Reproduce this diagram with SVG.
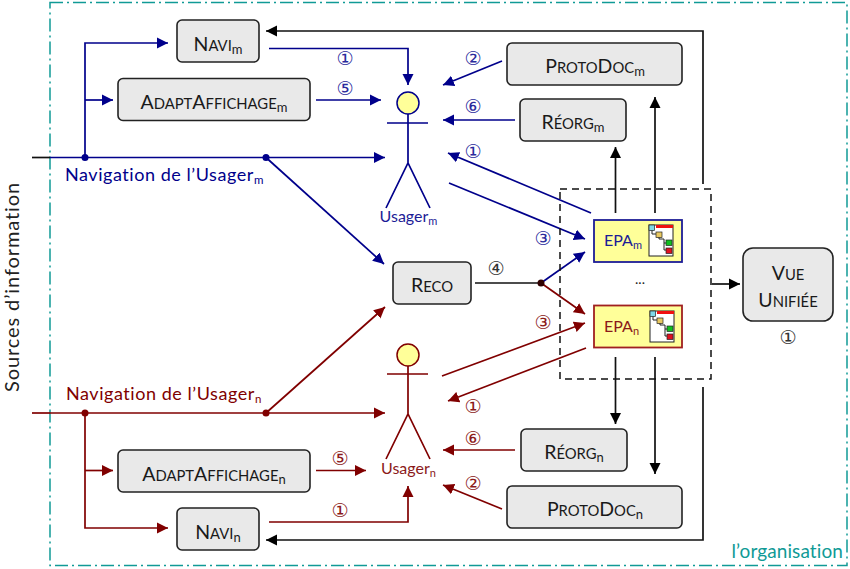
<svg xmlns="http://www.w3.org/2000/svg" xmlns:xlink="http://www.w3.org/1999/xlink" width="850" height="569" viewBox="0 0 850 569">
<style>
text{font-family:"Lato","Open Sans","Liberation Sans",sans-serif}
.box{fill:#e9e9e9;stroke:#222;stroke-width:1.6}
.t{font-size:19.500px;fill:#1a1a1a;text-anchor:middle}
.s{font-size:14.800px}
.sub{font-size:13px}
.b{stroke:#00008b;fill:none;stroke-width:1.7}
.r{stroke:#800000;fill:none;stroke-width:1.7}
.k{stroke:#111;fill:none;stroke-width:1.7}
.ab{marker-end:url(#ab)}
.ar{marker-end:url(#ar)}
.ak{marker-end:url(#ak)}
.nb,.nr,.nk{font-family:"DejaVu Sans",sans-serif;font-size:19px;text-anchor:middle;dominant-baseline:central}
.nb{fill:#2a2a9c}.nr{fill:#8b1a1a}.nk{fill:#333}
.lb{fill:#00008b;font-size:18px;letter-spacing:.55px}
.lr{fill:#800000;font-size:18px;letter-spacing:.55px}
</style>
<defs>
<marker id="ab" markerUnits="userSpaceOnUse" markerWidth="12" markerHeight="12" refX="11" refY="6" orient="auto"><path d="M0,0.500L11,6L0,11.500z" fill="#00008b"/></marker>
<marker id="ar" markerUnits="userSpaceOnUse" markerWidth="12" markerHeight="12" refX="11" refY="6" orient="auto"><path d="M0,0.500L11,6L0,11.500z" fill="#800000"/></marker>
<marker id="ak" markerUnits="userSpaceOnUse" markerWidth="12" markerHeight="12" refX="11" refY="6" orient="auto"><path d="M0,0.500L11,6L0,11.500z" fill="#000"/></marker>
<g id="tree">
<rect x="0" y="0" width="24" height="31" fill="#fff" stroke="#222" stroke-width="1"/>
<rect x="7" y="0" width="17" height="3" fill="#f01010"/>
<path d="M3,4V9H10M10,10V14H15V18H19M15,18V25H19" fill="none" stroke="#222" stroke-width="1"/>
<rect x="0" y="0" width="5.500" height="5.500" fill="#7fd8e8" stroke="#222" stroke-width=".7"/>
<rect x="7" y="7" width="6" height="5.500" fill="#e8c860" stroke="#222" stroke-width=".7"/>
<rect x="17" y="15" width="6" height="5.500" fill="#10c020" stroke="#222" stroke-width=".7"/>
<rect x="17" y="23" width="6" height="5.500" fill="#e01020" stroke="#222" stroke-width=".7"/>
</g>
</defs>
<rect width="850" height="569" fill="#fff"/>
<rect id="organisation" x="50" y="2.500" width="797" height="563" fill="none" stroke="#109a96" stroke-width="1.500" stroke-dasharray="13 4 2 4"/>
<text x="843" y="558" font-size="19px" fill="#109a96" text-anchor="end" letter-spacing=".1">l’organisation</text>
<text transform="translate(19,392) rotate(-90)" font-size="20" letter-spacing=".9" fill="#222">Sources d’information</text>

<g id="connectors">
<path class="k" d="M32,157.500H50"/>
<path class="b ab" d="M50,157.500H385"/>
<path class="b ab" d="M85,157.500V43H168"/>
<path class="b ab" d="M85,100H113"/>
<path class="b ab" d="M266,157.500L384,264"/>
<path class="b ab" d="M269,48.500H408V85"/>
<path class="b ab" d="M316,100H381"/>
<path class="b ab" d="M502,61L443,85"/>
<path class="b ab" d="M515,120H443"/>
<path class="b ab" d="M591,213L448,153"/>
<path class="b ab" d="M449,183L585,239"/>
<path class="k" d="M475,283H541"/>
<path class="b ab" d="M541,283L585,252"/>
<path class="r ar" d="M541,283L585,314"/>
<path class="r" d="M32,413H50"/>
<path class="r ar" d="M50,413H385"/>
<path class="r ar" d="M85,413V528H168"/>
<path class="r ar" d="M85,470.500H113"/>
<path class="r ar" d="M266,413L385,307"/>
<path class="r ar" d="M269,522H408V486"/>
<path class="r ar" d="M316,470.500H366"/>
<path class="r ar" d="M442,376L585,323"/>
<path class="r ar" d="M586,348L448,401"/>
<path class="r ar" d="M515,450H443"/>
<path class="r ar" d="M502,509L443,485"/>
<path class="k ak" d="M703,184V31H266"/>
<path class="k ak" d="M703,387V540H266"/>
<path class="k ak" d="M615.500,213V147"/>
<path class="k ak" d="M655,213V97"/>
<path class="k ak" d="M615.500,357V424"/>
<path class="k ak" d="M655,357V474"/>
<path class="k ak" d="M712,284H740"/>
<circle cx="85" cy="157.500" r="3.500" fill="#00008b"/>
<circle cx="266" cy="157.500" r="3.500" fill="#00008b"/>
<circle cx="85" cy="413" r="3.500" fill="#800000"/>
<circle cx="266" cy="413" r="3.500" fill="#800000"/>
<circle cx="541" cy="283" r="3.500" fill="#300000"/>
<path d="M560,189H711V379H560z" fill="none" stroke="#111" stroke-width="1.500" stroke-dasharray="7 5"/>
</g>

<g id="navi-m"><rect class="box" x="177" y="20" width="82" height="42" rx="5"/><text class="t" x="218" y="51">N<tspan class="s">AVI</tspan><tspan class="sub" dy="3">m</tspan></text></g>
<g id="adapt-m"><rect class="box" x="118" y="78.500" width="192" height="42" rx="5"/><text class="t" x="214" y="109">A<tspan class="s">DAPT</tspan>A<tspan class="s">FFICHAGE</tspan><tspan class="sub" dy="3">m</tspan></text></g>
<g id="proto-m"><rect class="box" x="507" y="43" width="175" height="42" rx="5"/><text class="t" x="595" y="73">P<tspan class="s">ROTO</tspan>D<tspan class="s">OC</tspan><tspan class="sub" dy="3">m</tspan></text></g>
<g id="reorg-m"><rect class="box" x="520" y="99" width="106" height="42" rx="5"/><text class="t" x="573" y="129">R<tspan class="s">ÉORG</tspan><tspan class="sub" dy="3">m</tspan></text></g>
<g id="reco"><rect class="box" x="393" y="262" width="78" height="42" rx="5"/><text class="t" x="432" y="292">R<tspan class="s">ECO</tspan></text></g>
<g id="vue"><rect class="box" x="743" y="248" width="90" height="73" rx="10"/><text class="t" x="788" y="280">V<tspan class="s">UE</tspan></text><text class="t" x="788" y="307">U<tspan class="s">NIFIÉE</tspan></text></g>
<g id="reorg-n"><rect class="box" x="521" y="429" width="106" height="42" rx="5"/><text class="t" x="574" y="459">R<tspan class="s">ÉORG</tspan><tspan class="sub" dy="3">n</tspan></text></g>
<g id="proto-n"><rect class="box" x="507" y="486" width="175" height="42" rx="5"/><text class="t" x="595" y="516">P<tspan class="s">ROTO</tspan>D<tspan class="s">OC</tspan><tspan class="sub" dy="3">n</tspan></text></g>
<g id="adapt-n"><rect class="box" x="118" y="450" width="192" height="42" rx="5"/><text class="t" x="214" y="481">A<tspan class="s">DAPT</tspan>A<tspan class="s">FFICHAGE</tspan><tspan class="sub" dy="3">n</tspan></text></g>
<g id="navi-n"><rect class="box" x="177" y="508" width="82" height="42" rx="5"/><text class="t" x="218" y="539">N<tspan class="s">AVI</tspan><tspan class="sub" dy="3">n</tspan></text></g>

<g id="epa-m"><rect x="594" y="220" width="88" height="42" fill="#ffff99" stroke="#1c1c96" stroke-width="1.800"/><text x="604" y="246" font-size="16" fill="#1c1c96">EPA<tspan font-size="11" dy="3">m</tspan></text><use href="#tree" x="649" y="225"/></g>
<g id="epa-n"><rect x="594" y="305.500" width="88" height="42" fill="#ffff99" stroke="#a02020" stroke-width="1.800"/><text x="604" y="332" font-size="16" fill="#8b1a1a">EPA<tspan font-size="11" dy="3">n</tspan></text><use href="#tree" x="650" y="311"/></g>
<text x="640" y="284" font-size="14" fill="#222" text-anchor="middle">...</text>

<g id="usager-m">
<circle cx="408" cy="103" r="11" fill="#ffff99" stroke="#00008b" stroke-width="1.500"/>
<path class="b" d="M387,123H428M408,114V163M386,208L408,163L430,208"/>
<text x="408.500" y="222" font-size="16" fill="#1c1c96" text-anchor="middle">Usager<tspan font-size="11" dy="3">m</tspan></text>
</g>
<g id="usager-n">
<circle cx="408" cy="355" r="11" fill="#ffff99" stroke="#800000" stroke-width="1.500"/>
<path class="r" d="M387,374H428M408,366V414M386,459L408,414L430,459"/>
<text x="408.500" y="474" font-size="16" fill="#8b1a1a" text-anchor="middle">Usager<tspan font-size="11" dy="3">n</tspan></text>
</g>

<text class="lb" x="65" y="181">Navigation de l’Usager<tspan font-size="11.500" dy="3">m</tspan></text>
<text class="lr" x="66" y="400">Navigation de l’Usager<tspan font-size="11.500" dy="3">n</tspan></text>

<text class="nb" x="345" y="58">①</text>
<text class="nb" x="345" y="88">⑤</text>
<text class="nb" x="473" y="58">②</text>
<text class="nb" x="473" y="106">⑥</text>
<text class="nb" x="473" y="151">①</text>
<text class="nb" x="543" y="238">③</text>
<text class="nk" x="496" y="268">④</text>
<text class="nk" x="788" y="337">①</text>
<text class="nr" x="543" y="322">③</text>
<text class="nr" x="473" y="406">①</text>
<text class="nr" x="473" y="438">⑥</text>
<text class="nr" x="473" y="483">②</text>
<text class="nr" x="340" y="458">⑤</text>
<text class="nr" x="340" y="510">①</text>
</svg>
